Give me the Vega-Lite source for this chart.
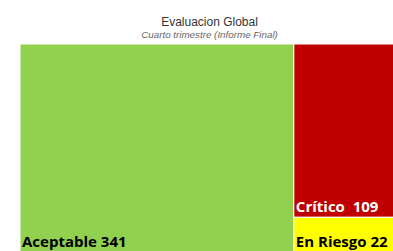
{
  "$schema": "https://vega.github.io/schema/vega-lite/v6.json",
  "width": 373,
  "height": 207,
  "autosize": {"type": "none"},
  "padding": {"left": 20, "top": 44, "right": 0, "bottom": 0},
  "background": "white",
  "config": {"view": {"stroke": null}},
  "title": {
    "text": "Evaluacion Global",
    "subtitle": "Cuarto trimestre (Informe Final)",
    "anchor": "middle",
    "dx": 3,
    "offset": 3,
    "font": "Liberation Sans",
    "fontSize": 12,
    "fontWeight": "normal",
    "color": "#333333",
    "subtitleFont": "Liberation Sans",
    "subtitleFontSize": 9.8,
    "subtitleFontStyle": "italic",
    "subtitleColor": "#666666",
    "subtitlePadding": 1
  },
  "data": {
    "values": [
      {"categoria": "Aceptable", "valor": 341, "grupo": "A", "orden": 1},
      {"categoria": "En Riesgo", "valor": 22, "grupo": "B", "orden": 1},
      {"categoria": "Crítico", "valor": 109, "grupo": "B", "orden": 2}
    ]
  },
  "transform": [
    {"joinaggregate": [{"op": "sum", "field": "valor", "as": "total"}]},
    {"joinaggregate": [{"op": "sum", "field": "valor", "as": "gtotal"}], "groupby": ["grupo"]},
    {"stack": "valor", "groupby": ["grupo"], "sort": [{"field": "orden", "order": "ascending"}], "offset": "normalize", "as": ["y0", "y1"]},
    {"calculate": "datum.grupo === 'A' ? 0 : (datum.total - datum.gtotal) / datum.total", "as": "x0"},
    {"calculate": "datum.grupo === 'A' ? datum.gtotal / datum.total : 1", "as": "x1"},
    {"calculate": "datum.categoria === 'Crítico' ? datum.categoria + '\u00a0 ' + datum.valor : datum.categoria + ' ' + datum.valor", "as": "etiqueta"}
  ],
  "layer": [
    {
      "mark": {"type": "rect", "stroke": "white", "strokeWidth": 1, "clip": true},
      "encoding": {
        "x": {"field": "x0", "type": "quantitative", "scale": {"domain": [0, 0.984], "nice": false, "zero": false}, "axis": null},
        "x2": {"field": "x1"},
        "y": {"field": "y0", "type": "quantitative", "scale": {"domain": [0.005, 1], "nice": false, "zero": false}, "axis": null},
        "y2": {"field": "y1"},
        "color": {
          "field": "categoria",
          "type": "nominal",
          "scale": {"domain": ["Aceptable", "Crítico", "En Riesgo"], "range": ["#92D050", "#C00000", "#FFFF00"]},
          "legend": null
        }
      }
    },
    {
      "mark": {"type": "text", "align": "left", "baseline": "alphabetic", "dx": 2, "dy": -5, "font": "Open Sans", "fontWeight": "bold", "fontSize": 15, "clip": true},
      "encoding": {
        "x": {"field": "x0", "type": "quantitative"},
        "y": {"field": "y0", "type": "quantitative"},
        "text": {"field": "etiqueta"},
        "color": {
          "condition": {"test": "datum.categoria === 'Crítico'", "value": "white"},
          "value": "black"
        }
      }
    }
  ]
}
